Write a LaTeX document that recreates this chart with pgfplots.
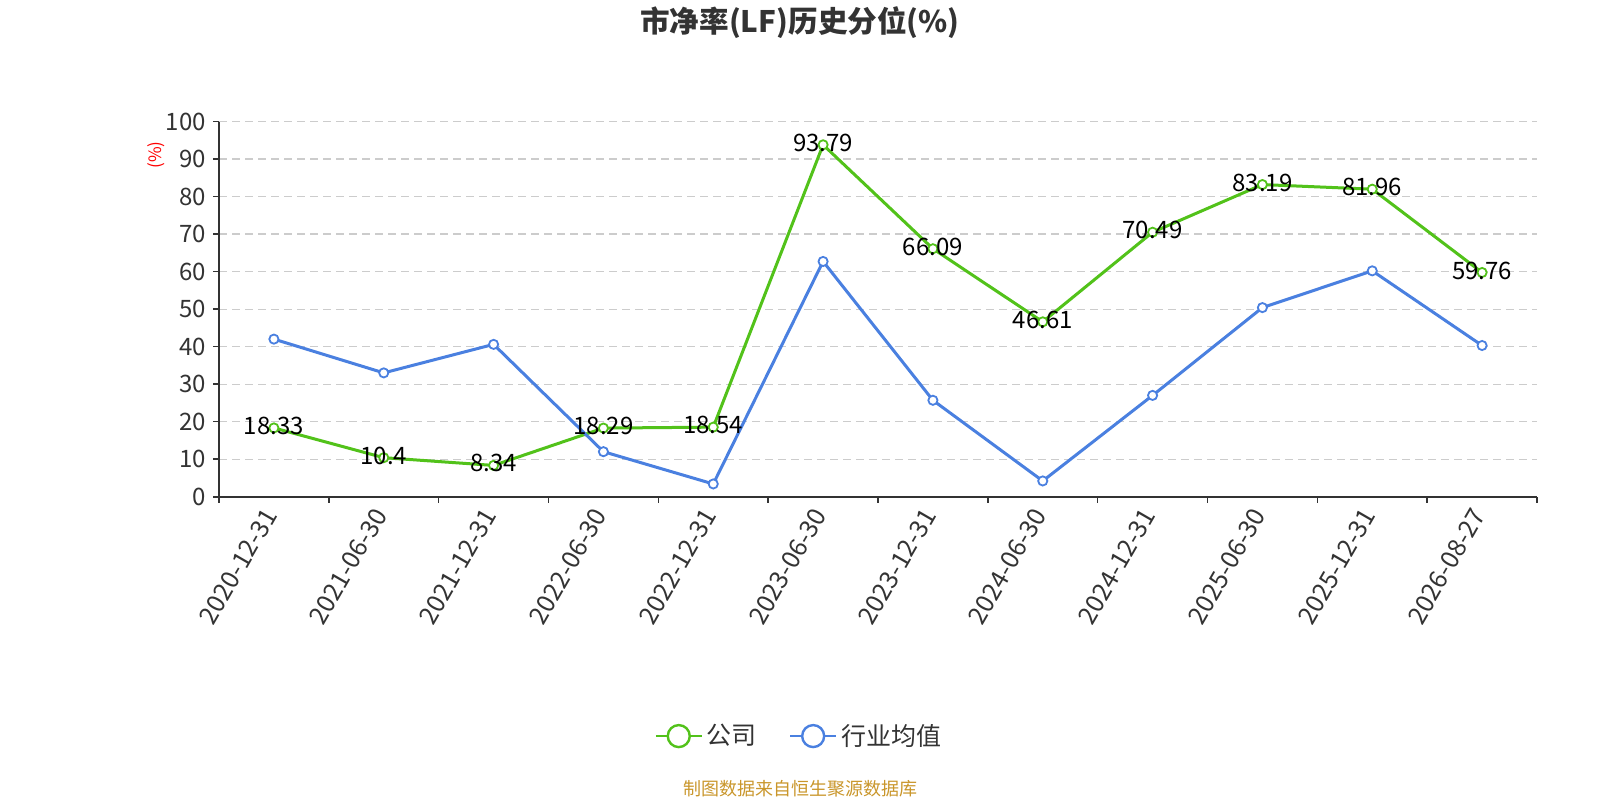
\documentclass[border=0pt]{standalone}
\usepackage{pgfplots}
\pgfplotsset{compat=1.18}
\usepackage{fontspec}
\setmainfont{Noto Sans CJK SC}
\definecolor{cgreen}{RGB}{82,194,26}
\definecolor{cblue}{RGB}{74,128,224}
\definecolor{ctext}{RGB}{51,51,51}
\definecolor{cgrid}{RGB}{204,204,204}
\definecolor{csrc}{RGB}{201,150,43}
\begin{document}
\begin{tikzpicture}
\path[use as bounding box] (0,0) rectangle (800pt,400pt);
\begin{axis}[
  at={(109.5pt,151.65pt)}, anchor=south west,
  scale only axis, width=659pt, height=187.6pt,
  xmin=-0.5, xmax=11.5, ymin=0, ymax=100,
  axis x line*=bottom, axis y line*=left,
  axis line style={ctext, line width=0.8pt},
  ytick={0,10,...,100},
  ymajorgrids, grid style={cgrid, dash pattern=on 4pt off 2.5pt, line width=0.6pt},
  xtick={-0.5,0.5,...,11.5}, xticklabels={},
  extra x ticks={0,1,...,11},
  extra x tick labels={2020-12-31,2021-06-30,2021-12-31,2022-06-30,2022-12-31,2023-06-30,2023-12-31,2024-06-30,2024-12-31,2025-06-30,2025-12-31,2026-08-27},
  extra x tick style={major tick length=0pt, grid=none},
  tick align=outside, major tick length=3pt,
  tick style={ctext, line width=0.8pt},
  xticklabel style={yshift=-4pt, rotate=60, anchor=east, font=\fontsize{12.5}{12.5}\selectfont, text=ctext},
  yticklabel style={font=\fontsize{12}{12}\selectfont, text=ctext},
  /pgf/number format/assume math mode=true,
  clip=false,
  legend style={at={(0.4408,-0.638)}, anchor=center, draw=none, fill=none,
    font=\fontsize{12.5}{12.5}\selectfont, text=ctext,
    /tikz/every even column/.append style={column sep=14pt}},
  legend columns=2,
  legend cell align=left,
]
\addlegendimage{cgreen, legend image code/.code={\draw[cgreen, line width=1.2pt] (0pt,0pt) -- (23pt,0pt); \draw[cgreen, line width=1.2pt, fill=white] (11.5pt,0pt) circle (5.5pt);}}
\addlegendentry{公司}
\addlegendimage{cblue, legend image code/.code={\draw[cblue, line width=1.2pt] (0pt,0pt) -- (23pt,0pt); \draw[cblue, line width=1.2pt, fill=white] (11.5pt,0pt) circle (5.5pt);}}
\addlegendentry{行业均值}
\addplot[forget plot, cgreen, line width=1.5pt, mark=*, mark size=2.3pt,
  mark options={fill=white, draw=cgreen, line width=0.9pt},
  nodes near coords, point meta=explicit symbolic,
  nodes near coords style={anchor=center, yshift=1pt, text=black, font=\fontsize{12}{12}\selectfont}]
coordinates {(0,18.33) [18.33] (1,10.4) [10.4] (2,8.34) [8.34] (3,18.29) [18.29]
 (4,18.54) [18.54] (5,93.79) [93.79] (6,66.09) [66.09] (7,46.61) [46.61]
 (8,70.49) [70.49] (9,83.19) [83.19] (10,81.96) [81.96] (11,59.76) [59.76]};
\addplot[forget plot, cblue, line width=1.5pt, mark=*, mark size=2.3pt,
  mark options={fill=white, draw=cblue, line width=0.9pt}]
coordinates {(0,42.0) (1,33.0) (2,40.6) (3,12.0) (4,3.4) (5,62.7)
 (6,25.7) (7,4.2) (8,27.0) (9,50.4) (10,60.2) (11,40.3)};
\end{axis}
\node[rotate=90, text=red, font=\fontsize{8.5}{8.5}\selectfont] at (78pt,322.5pt) {(\%)};
\node[font=\fontsize{14.8}{14.8}\selectfont\bfseries, text=ctext] at (400pt,388.75pt) {市净率(LF)历史分位(\%)};
\node[text=csrc, font=\fontsize{9}{9}\selectfont] at (400pt,5.5pt) {制图数据来自恒生聚源数据库};
\end{tikzpicture}
\end{document}
